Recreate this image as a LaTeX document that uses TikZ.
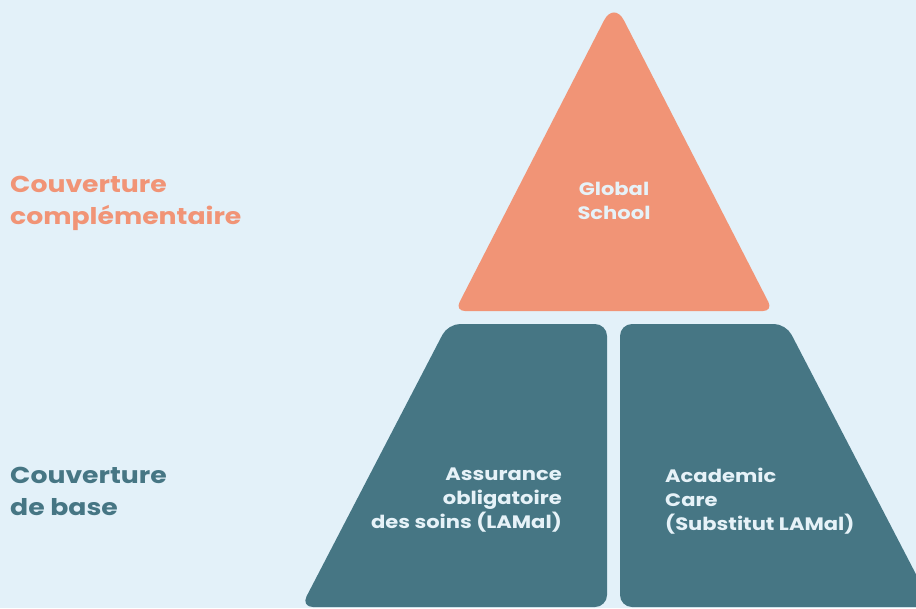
\documentclass[tikz,border=0pt]{standalone}
\usepackage{fontspec}
\setmainfont{Poppins}
\newfontfamily\widefont[FakeStretch=1.17]{Poppins}
\newfontfamily\sidefont[FakeStretch=1.16]{Poppins}
\definecolor{bgc}{HTML}{E3F1F9}
\definecolor{salmon}{HTML}{F19476}
\definecolor{teal}{HTML}{467684}
\definecolor{lighttxt}{HTML}{E6F2F8}
\begin{document}
\begin{tikzpicture}[x=1pt,y=-1pt,
  block/.style={rounded corners=12pt},
  inner/.style={inner sep=0pt, text=lighttxt, font=\widefont\fontsize{18}{24}\selectfont\bfseries},
  side/.style={inner sep=0pt, anchor=north west, align=left, font=\sidefont\fontsize{23}{31.5}\selectfont\bfseries}]
\fill[bgc] (0,0) rectangle (916,608);
\useasboundingbox (0,0) rectangle (916,608);
\clip (0,0) rectangle (916,608);
% top triangle
\fill[salmon] [rounded corners=10pt] (455,311) [rounded corners=22pt] -- (614,1) [rounded corners=10pt] -- (773,311) -- cycle;
% left trapezoid
\fill[teal, block] (448,324) -- (607,324) -- (607,607) -- (301,607) -- cycle;
% right trapezoid
\fill[teal, block] (620,324) -- (786,324) -- (933,607) -- (620,607) -- cycle;
% texts
\node[inner, anchor=north, align=center] (gs) at (614,182) {Global\\School};
\node[inner, anchor=north east, align=right] (lamal) at (562,468) {Assurance\\obligatoire\\des soins (LAMal)};
\node[inner, anchor=north west, align=left] (ac) at (665,468) {Academic\\Care\\(Substitut LAMal)};
\node[side, text=salmon] (comp) at (10,176) {Couverture\\complémentaire};
\node[side, text=teal] (base) at (10,467) {Couverture\\de base};
\end{tikzpicture}
\end{document}
